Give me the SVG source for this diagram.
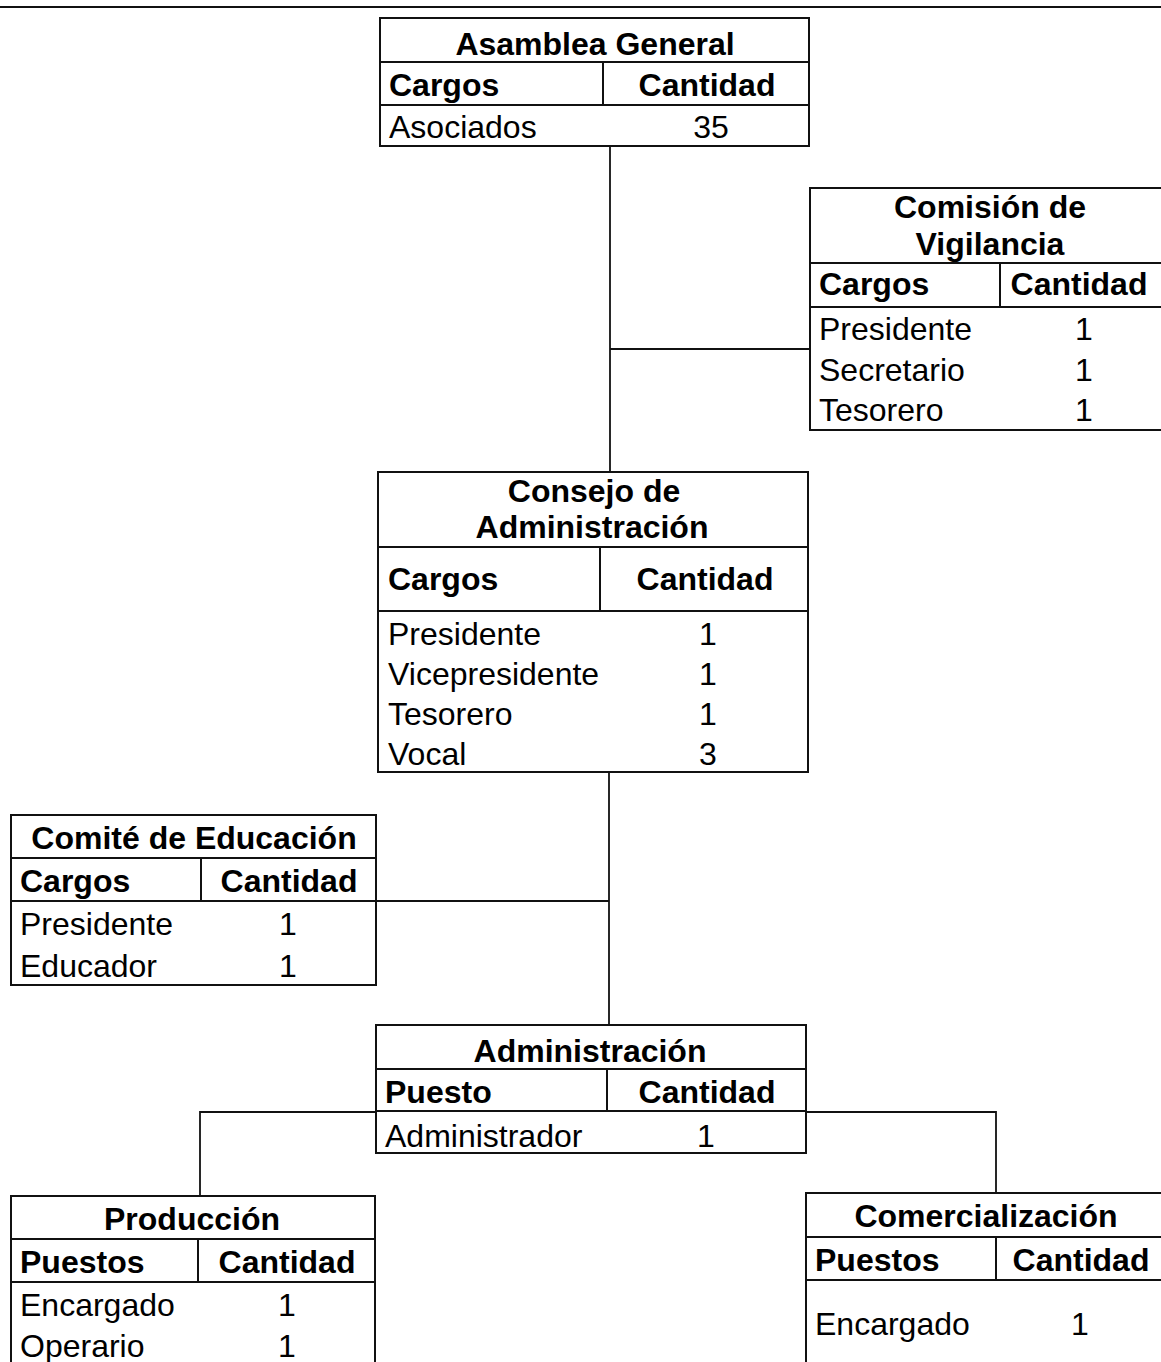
<svg xmlns="http://www.w3.org/2000/svg" width="1161" height="1362" viewBox="0 0 1161 1362">
<style>
.bg{fill:#ffffff}
.box{fill:#ffffff;stroke:#111;stroke-width:2}
.ln{stroke:#111;stroke-width:2;fill:none}
.cn{stroke:#111;stroke-width:1.8;fill:none}
text{font-family:"Liberation Sans",Arial,sans-serif;font-size:32px;fill:#000}
.b{font-weight:bold}
.m{text-anchor:middle}
</style>
<rect class="bg" x="0" y="0" width="1161" height="1362"/>
<line class="ln" x1="0" y1="7" x2="1161" y2="7"/>

<g id="connectors">
<line class="cn" x1="610" y1="147" x2="610" y2="472"/>
<line class="cn" x1="610" y1="349" x2="810" y2="349"/>
<line class="cn" x1="609" y1="772" x2="609" y2="1025"/>
<line class="cn" x1="376" y1="901" x2="609" y2="901"/>
<polyline class="cn" points="200,1196 200,1112 996,1112 996,1193"/>
</g>

<g id="asamblea">
<rect class="box" x="380" y="18" width="429" height="128"/>
<line class="ln" x1="380" y1="62" x2="809" y2="62"/>
<line class="ln" x1="380" y1="105" x2="809" y2="105"/>
<line class="ln" x1="603" y1="62" x2="603" y2="105"/>
<text class="b m" x="595" y="55">Asamblea General</text>
<text class="b" x="389" y="96">Cargos</text>
<text class="b m" x="707" y="96">Cantidad</text>
<text x="389" y="138">Asociados</text>
<text class="m" x="711" y="138">35</text>
</g>

<g id="comision">
<rect class="box" x="810" y="188" width="370" height="242"/>
<line class="ln" x1="810" y1="263" x2="1161" y2="263"/>
<line class="ln" x1="810" y1="307" x2="1161" y2="307"/>
<line class="ln" x1="1000" y1="263" x2="1000" y2="307"/>
<text class="b m" x="990" y="218">Comisión de</text>
<text class="b m" x="990" y="255">Vigilancia</text>
<text class="b" x="819" y="295">Cargos</text>
<text class="b m" x="1079" y="295">Cantidad</text>
<text x="819" y="340">Presidente</text>
<text class="m" x="1084" y="340">1</text>
<text x="819" y="381">Secretario</text>
<text class="m" x="1084" y="381">1</text>
<text x="819" y="421">Tesorero</text>
<text class="m" x="1084" y="421">1</text>
</g>

<g id="consejo">
<rect class="box" x="378" y="472" width="430" height="300"/>
<line class="ln" x1="378" y1="547" x2="808" y2="547"/>
<line class="ln" x1="378" y1="611" x2="808" y2="611"/>
<line class="ln" x1="600" y1="547" x2="600" y2="611"/>
<text class="b m" x="594" y="502">Consejo de</text>
<text class="b m" x="592" y="538">Administración</text>
<text class="b" x="388" y="590">Cargos</text>
<text class="b m" x="705" y="590">Cantidad</text>
<text x="388" y="645">Presidente</text>
<text class="m" x="708" y="645">1</text>
<text x="388" y="685">Vicepresidente</text>
<text class="m" x="708" y="685">1</text>
<text x="388" y="725">Tesorero</text>
<text class="m" x="708" y="725">1</text>
<text x="388" y="765">Vocal</text>
<text class="m" x="708" y="765">3</text>
</g>

<g id="comite">
<rect class="box" x="11" y="815" width="365" height="170"/>
<line class="ln" x1="11" y1="858" x2="376" y2="858"/>
<line class="ln" x1="11" y1="901" x2="376" y2="901"/>
<line class="ln" x1="201" y1="858" x2="201" y2="901"/>
<text class="b m" x="194" y="849">Comité de Educación</text>
<text class="b" x="20" y="892">Cargos</text>
<text class="b m" x="289" y="892">Cantidad</text>
<text x="20" y="935">Presidente</text>
<text class="m" x="288" y="935">1</text>
<text x="20" y="977">Educador</text>
<text class="m" x="288" y="977">1</text>
</g>

<g id="administracion">
<rect class="box" x="376" y="1025" width="430" height="128"/>
<line class="ln" x1="376" y1="1069" x2="806" y2="1069"/>
<line class="ln" x1="376" y1="1111" x2="806" y2="1111"/>
<line class="ln" x1="607" y1="1069" x2="607" y2="1111"/>
<text class="b m" x="590" y="1062">Administración</text>
<text class="b" x="385" y="1103">Puesto</text>
<text class="b m" x="707" y="1103">Cantidad</text>
<text x="385" y="1147">Administrador</text>
<text class="m" x="706" y="1147">1</text>
</g>

<g id="produccion">
<rect class="box" x="11" y="1196" width="364" height="180"/>
<line class="ln" x1="11" y1="1239" x2="375" y2="1239"/>
<line class="ln" x1="11" y1="1282" x2="375" y2="1282"/>
<line class="ln" x1="198" y1="1239" x2="198" y2="1282"/>
<text class="b m" x="192" y="1230">Producción</text>
<text class="b" x="20" y="1273">Puestos</text>
<text class="b m" x="287" y="1273">Cantidad</text>
<text x="20" y="1316">Encargado</text>
<text class="m" x="287" y="1316">1</text>
<text x="20" y="1357">Operario</text>
<text class="m" x="287" y="1357">1</text>
</g>

<g id="comercializacion">
<rect class="box" x="806" y="1193" width="380" height="190"/>
<line class="ln" x1="806" y1="1237" x2="1161" y2="1237"/>
<line class="ln" x1="806" y1="1280" x2="1161" y2="1280"/>
<line class="ln" x1="996" y1="1237" x2="996" y2="1280"/>
<text class="b m" x="986" y="1227">Comercialización</text>
<text class="b" x="815" y="1271">Puestos</text>
<text class="b m" x="1081" y="1271">Cantidad</text>
<text x="815" y="1335">Encargado</text>
<text class="m" x="1080" y="1335">1</text>
</g>
</svg>
